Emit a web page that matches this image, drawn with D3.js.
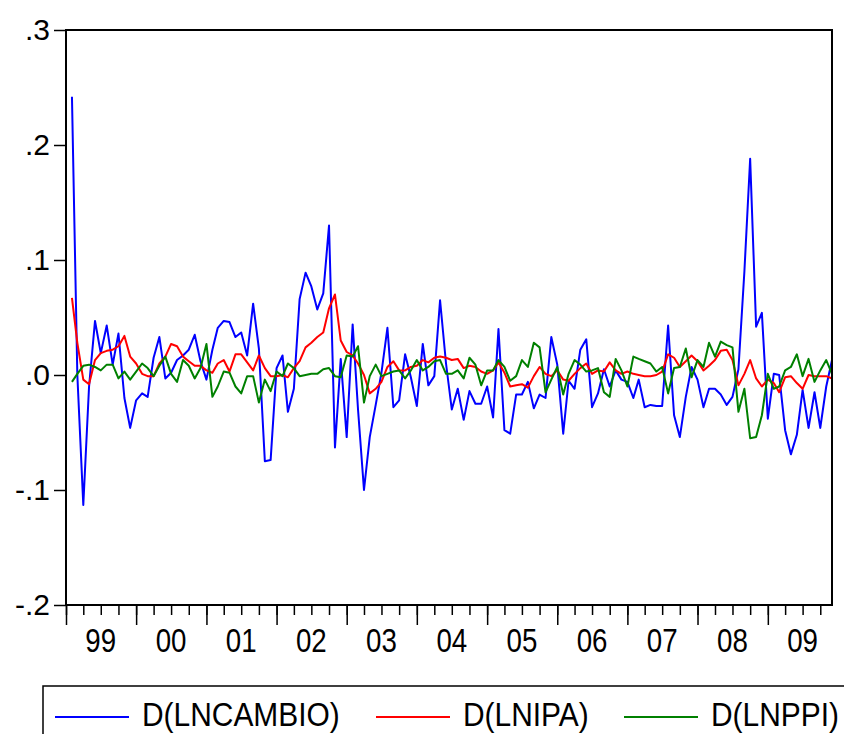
<!DOCTYPE html>
<html>
<head>
<meta charset="utf-8">
<script src="https://cdn.jsdelivr.net/npm/d3@7"></script>
<style>
  body { margin: 0; background: #fff; }
  svg { display: block; }
  .ylab { font-family: "Liberation Sans", Arial, sans-serif; font-size: 30px; }
  .xlab, .leg { font-family: "Liberation Sans", Arial, sans-serif; }
  .xlab { font-size: 33px; }
  .leg { font-size: 34px; }
</style>
</head>
<body>
<svg id="chart" width="844" height="734"></svg>
<script>
// monthly sample, first obs 1999M01 (lost by differencing)
var startMonth = new Date(1999, 0, 1);
var endMonth   = new Date(2009, 11, 1);

var lnCambio = [0.242, 0.000, -0.113, -0.010, 0.047, 0.019, 0.043, 0.009, 0.036, -0.020, -0.046, -0.022,
  -0.016, -0.019, 0.015, 0.033, -0.003, 0.002, 0.013, 0.017, 0.022, 0.035, 0.012, -0.004,
  0.022, 0.041, 0.047, 0.046, 0.033, 0.037, 0.017, 0.062, 0.023, -0.075, -0.074, 0.006,
  0.017, -0.032, -0.012, 0.066, 0.089, 0.077, 0.057, 0.071, 0.130, -0.063, 0.014, -0.054,
  0.044, -0.030, -0.100, -0.054, -0.026, 0.002, 0.041, -0.028, -0.022, 0.018, -0.002, -0.027,
  0.027, -0.009, -0.001, 0.065, 0.010, -0.030, -0.012, -0.039, -0.014, -0.025, -0.025, -0.010,
  -0.037, 0.040, -0.048, -0.051, -0.017, -0.017, -0.006, -0.029, -0.017, -0.020, 0.033, 0.009,
  -0.051, -0.005, -0.012, 0.022, 0.031, -0.028, -0.016, 0.005, -0.010, 0.004, -0.004, -0.006,
  -0.020, -0.004, -0.028, -0.026, -0.027, -0.027, 0.043, -0.035, -0.054, -0.019, 0.007, -0.004,
  -0.028, -0.012, -0.012, -0.017, -0.026, -0.019, 0.005, 0.090, 0.188, 0.042, 0.054, -0.038,
  0.001, 0.000, -0.048, -0.069, -0.052, -0.013, -0.046, -0.015, -0.046, -0.010, 0.013];

var lnIpa = [0.067, 0.028, -0.004, -0.008, 0.013, 0.019, 0.021, 0.022, 0.025, 0.034, 0.016, 0.010,
  0.001, -0.001, -0.001, 0.010, 0.016, 0.027, 0.025, 0.016, 0.012, 0.008, 0.008, 0.004,
  0.002, 0.010, 0.013, 0.003, 0.018, 0.018, 0.011, 0.004, 0.017, 0.006, -0.001, -0.001,
  0.000, -0.002, 0.006, 0.012, 0.024, 0.028, 0.033, 0.037, 0.058, 0.070, 0.030, 0.020,
  0.017, 0.010, 0.000, -0.016, -0.012, -0.006, 0.007, 0.012, 0.004, 0.004, 0.007, 0.008,
  0.013, 0.011, 0.015, 0.016, 0.015, 0.013, 0.014, 0.006, 0.008, 0.007, 0.003, 0.001,
  0.004, 0.011, 0.002, -0.010, -0.009, -0.008, -0.011, -0.001, 0.007, 0.001, -0.001, 0.004,
  -0.004, -0.005, 0.001, 0.006, 0.010, 0.001, 0.004, 0.003, 0.011, 0.004, 0.001, 0.003,
  0.001, 0.000, -0.001, -0.001, 0.000, 0.003, 0.018, 0.015, 0.007, 0.012, 0.017, 0.012,
  0.004, 0.008, 0.013, 0.021, 0.022, 0.013, -0.009, 0.001, 0.013, -0.003, -0.010, -0.004,
  -0.007, -0.015, -0.002, -0.001, -0.007, -0.012, 0.000, -0.001, -0.001, -0.001, -0.003];

var lnPpi = [-0.006, 0.001, 0.008, 0.009, 0.007, 0.004, 0.009, 0.009, -0.003, 0.003, -0.004, 0.003,
  0.010, 0.006, -0.001, 0.008, 0.016, 0.001, -0.006, 0.013, 0.008, -0.003, 0.006, 0.027,
  -0.019, -0.010, 0.003, 0.002, -0.010, -0.016, -0.001, -0.001, -0.024, -0.004, -0.014, 0.003,
  -0.001, 0.010, 0.006, -0.001, 0.000, 0.001, 0.001, 0.005, 0.006, -0.001, -0.002, 0.017,
  0.016, 0.025, -0.024, -0.001, 0.009, -0.001, 0.001, 0.003, 0.004, -0.003, 0.004, 0.013,
  0.004, 0.007, 0.012, 0.013, 0.001, 0.001, 0.004, -0.003, 0.015, 0.009, -0.009, 0.004,
  0.004, 0.013, 0.007, -0.005, -0.001, 0.013, 0.007, 0.028, 0.024, -0.015, -0.004, 0.007,
  -0.017, 0.001, 0.013, 0.009, 0.003, 0.004, 0.006, -0.015, -0.019, 0.014, 0.004, -0.010,
  0.016, 0.014, 0.012, 0.010, 0.003, 0.007, -0.016, 0.006, 0.007, 0.023, -0.002, 0.013,
  0.007, 0.028, 0.016, 0.029, 0.026, 0.024, -0.032, -0.012, -0.055, -0.054, -0.035, 0.001,
  -0.012, -0.010, 0.004, 0.007, 0.018, -0.001, 0.014, -0.006, 0.004, 0.013, 0.001];

var seriesNames  = ["D(LNCAMBIO)", "D(LNIPA)", "D(LNPPI)"];
var seriesColors = ["#0000ff", "#ff0000", "#008000"];
var yTicks       = [0.3, 0.2, 0.1, 0.0, -0.1, -0.2];
var yTickLabels  = [".3", ".2", ".1", ".0", "-.1", "-.2"];

var svg = d3.select("#chart");
var m = {left: 66, right: 832, top: 30, bottom: 605};
var narrow = 0.84;   // condensed look of the original font

var x = d3.scaleTime().domain([startMonth, endMonth]).range([m.left, m.right]);
var y = d3.scaleLinear().domain([-0.2, 0.3]).range([m.bottom, m.top]);

// observation i sits at month i+1 after start
var dateOf = function(i) { return d3.timeMonth.offset(startMonth, i + 1); };

// lines
var line = d3.line()
  .x(function(d, i) { return x(dateOf(i)); })
  .y(function(d) { return y(d); });

[lnCambio, lnIpa, lnPpi].forEach(function(s, k) {
  svg.append("path")
    .datum(s)
    .attr("fill", "none")
    .attr("stroke", seriesColors[k])
    .attr("stroke-width", 2)
    .attr("stroke-linejoin", "round")
    .attr("d", line);
});

// frame
svg.append("rect")
  .attr("x", m.left).attr("y", m.top)
  .attr("width", m.right - m.left).attr("height", m.bottom - m.top)
  .attr("fill", "none").attr("stroke", "#000").attr("stroke-width", 2);

// y axis
var gy = svg.append("g").attr("transform", "translate(" + m.left + ",0)")
  .call(d3.axisLeft(y).tickValues(yTicks)
          .tickFormat(function(d, i) { return yTickLabels[i]; })
          .tickSize(12).tickPadding(4));
gy.select(".domain").remove();
gy.selectAll("line").attr("stroke", "#000").attr("stroke-width", 1.5);
gy.selectAll("text").attr("class", "ylab").attr("fill", "#000").attr("font-size", null).attr("font-family", null);

// x axis: quarterly minor ticks, yearly major ticks
var gxMinor = svg.append("g").attr("transform", "translate(0," + m.bottom + ")")
  .call(d3.axisBottom(x).ticks(d3.timeMonth.every(3)).tickSize(10).tickFormat(""));
gxMinor.select(".domain").remove();
gxMinor.selectAll("line").attr("stroke-width", 1.5);

var gxMajor = svg.append("g").attr("transform", "translate(0," + m.bottom + ")")
  .call(d3.axisBottom(x).ticks(d3.timeYear.every(1)).tickSize(20).tickFormat(""));
gxMajor.select(".domain").remove();
gxMajor.selectAll("line").attr("stroke-width", 1.5);

// year labels centred on mid-year
var years = d3.timeYear.range(new Date(1999, 0, 1), new Date(2010, 0, 1));
svg.append("g").selectAll("text")
  .data(years)
  .join("text")
    .attr("class", "xlab")
    .attr("transform", function(d) {
      return "translate(" + x(d3.timeMonth.offset(d, 6)) + ",652) scale(" + narrow + ",1)";
    })
    .attr("text-anchor", "middle")
    .text(d3.timeFormat("%y"));

// legend
var leg = svg.append("g");
leg.append("rect")
  .attr("x", 43).attr("y", 686).attr("width", 830).attr("height", 80)
  .attr("fill", "none").attr("stroke", "#000").attr("stroke-width", 1.5);
var legX = [55, 376, 624];
seriesNames.forEach(function(n, k) {
  leg.append("line")
    .attr("x1", legX[k]).attr("x2", legX[k] + 74)
    .attr("y1", 717).attr("y2", 717)
    .attr("stroke", seriesColors[k]).attr("stroke-width", 2);
  leg.append("text")
    .attr("class", "leg")
    .attr("transform", "translate(" + (legX[k] + 87) + ",726) scale(0.88,1)")
    .text(n);
});
</script>
</body>
</html>
